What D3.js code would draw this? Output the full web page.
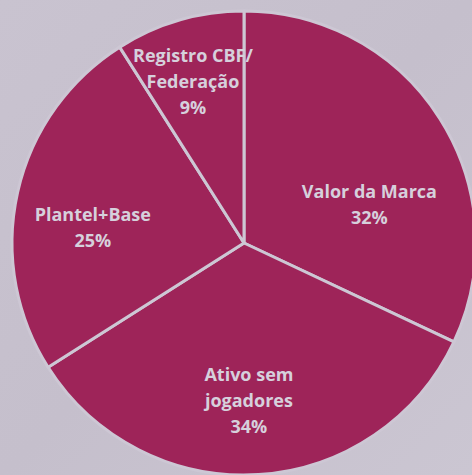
<!DOCTYPE html>
<html>
<head>
<meta charset="utf-8">
<script src="https://cdn.jsdelivr.net/npm/d3@7"></script>
<style>
  html, body { margin: 0; padding: 0; background: #c8c2cf; }
  #chartArea { width: 472px; height: 475px; }
</style>
</head>
<body>
<div id="chartArea"></div>
<script>
// data
const labels = [["Valor da Marca"], ["Ativo sem", "jogadores"], ["Plantel+Base"], ["Registro CBF/", "Federação"]];
const values = [32, 34, 25, 9];

// constants
const width = 472, height = 475;
const cx = 244, cy = 243, radius = 232;
const sliceColor = "#9e2459";
const lineColor = "#cdc7d4";
const textColor = "#d6d0dc";
// excel "best fit" moves some labels off the centroid line
const labelNudge = [[-8, 47], [-5, 0], [3, 19], [-7, -9]];

var svg = d3.select("#chartArea").append("svg")
    .attr("width", width)
    .attr("height", height);

// textured-ish background
var defs = svg.append("defs");
var grad = defs.append("linearGradient").attr("id", "bg")
    .attr("x1", 0).attr("y1", 0).attr("x2", 1).attr("y2", 1);
grad.append("stop").attr("offset", 0).attr("stop-color", "#c9c3d0");
grad.append("stop").attr("offset", 0.5).attr("stop-color", "#c5bfcc");
grad.append("stop").attr("offset", 1).attr("stop-color", "#cbc6d2");
svg.append("rect").attr("width", width).attr("height", height).attr("fill", "url(#bg)");

var data = values.map(function (v, i) { return { value: v, label: labels[i] }; });

var pie = d3.pie().sort(null).value(function (d) { return d.value; });
var arc = d3.arc().innerRadius(0).outerRadius(radius);
var labelArc = d3.arc().innerRadius(158).outerRadius(158);

var g = svg.append("g").attr("transform", "translate(" + cx + "," + cy + ")");

g.selectAll(".slice")
    .data(pie(data))
    .enter()
    .append("path")
    .attr("class", "slice")
    .attr("d", arc)
    .style("fill", sliceColor)
    .style("stroke", lineColor)
    .style("stroke-width", 3)
    .style("stroke-linejoin", "round");

// labels
var lineH = 26;
var texts = g.selectAll(".lbl")
    .data(pie(data))
    .enter()
    .append("text")
    .attr("class", "lbl")
    .attr("text-anchor", "middle")
    .attr("font-family", "'Open Sans', sans-serif")
    .attr("font-weight", "bold")
    .attr("font-size", "18px")
    .attr("fill", textColor)
    .attr("transform", function (d, i) {
        var c = labelArc.centroid(d);
        var n = d.data.label.length + 1;
        return "translate(" + (c[0] + labelNudge[i][0]) + "," + (c[1] - (n - 1) * lineH / 2 + 6 + labelNudge[i][1]) + ")";
    });

texts.each(function (d) {
    var t = d3.select(this);
    var lines = d.data.label.concat([d.data.value + "%"]);
    lines.forEach(function (s, i) {
        t.append("tspan").attr("x", 0).attr("y", i * lineH).text(s);
    });
});
</script>
</body>
</html>
